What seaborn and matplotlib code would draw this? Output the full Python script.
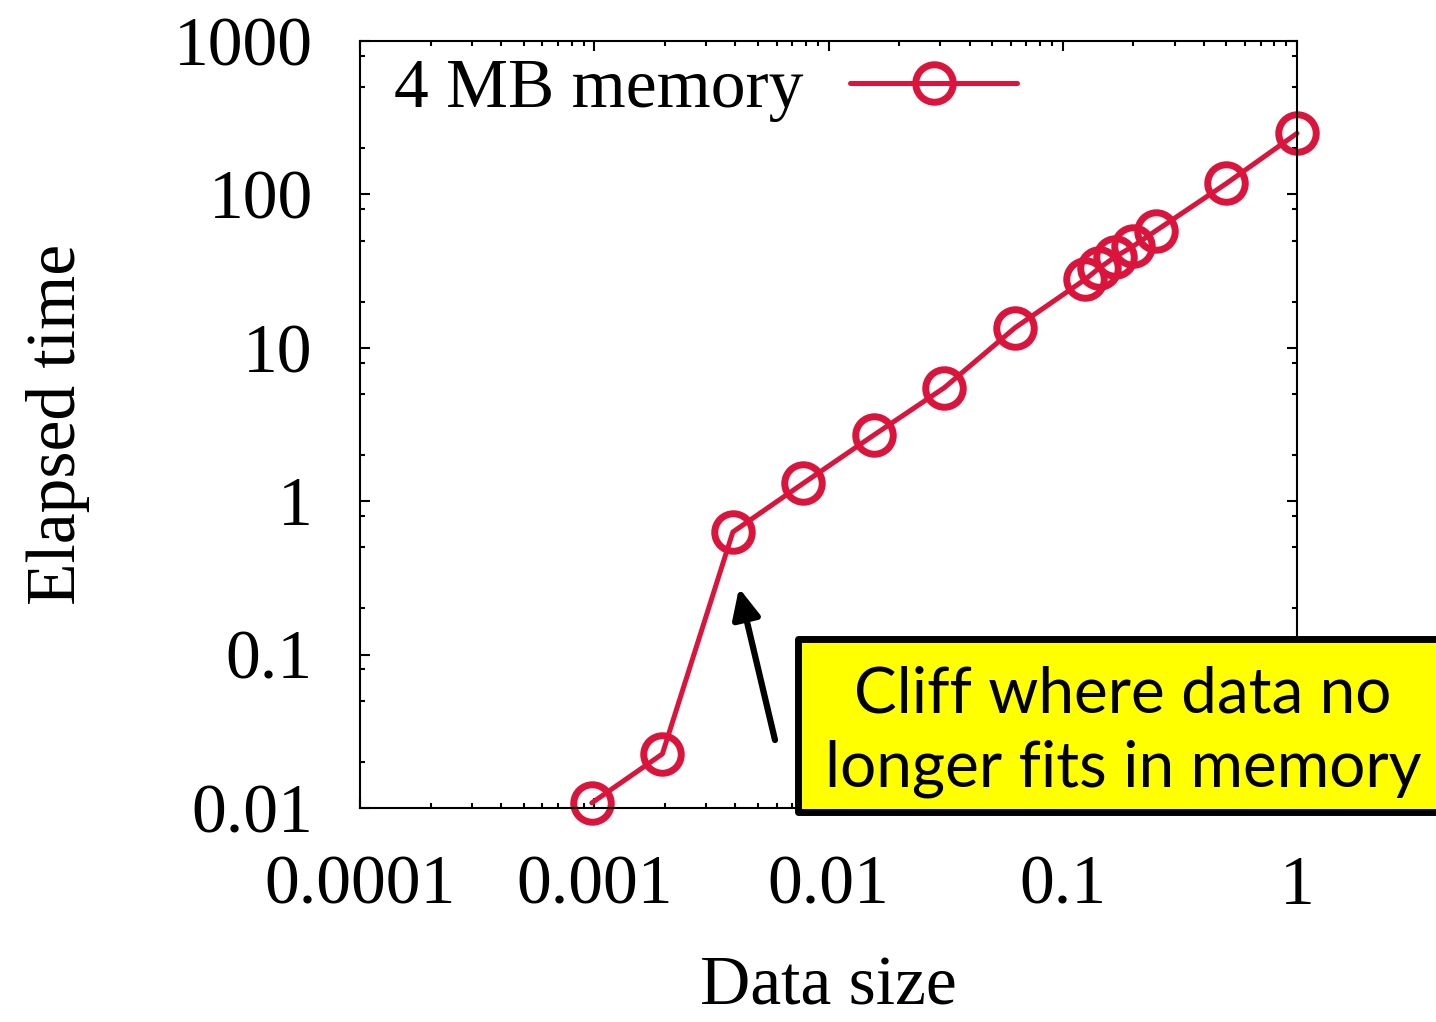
import numpy as np
import pandas as pd
import matplotlib
matplotlib.use("Agg")
import matplotlib.pyplot as plt
import seaborn as sns
from matplotlib.ticker import FixedLocator, FixedFormatter, LogLocator, NullFormatter
from matplotlib.patches import Rectangle

# ---- data ----
data_size = [1/1024, 1/512, 1/256, 1/128, 1/64, 1/32, 1/16,
             1/8, 1/7, 1/6, 1/5, 1/4, 1/2, 1]
elapsed_time = [0.0108, 0.0225, 0.63, 1.31, 2.7, 5.5, 13.5,
                28, 33, 39, 46, 58, 118, 250]
series_label = "4 MB memory"
x_ticks = [1e-4, 1e-3, 1e-2, 1e-1, 1]
x_tick_labels = ["0.0001", "0.001", "0.01", "0.1", "1"]
y_ticks = [0.01, 0.1, 1, 10, 100, 1000]
y_tick_labels = ["0.01", "0.1", "1", "10", "100", "1000"]
x_label = "Data size"
y_label = "Elapsed time"
note_text = "Cliff where data no\nlonger fits in memory"

RED = "#DC143C"
W, H = 1436, 1022

sns.set_style("ticks")
plt.rcParams["font.family"] = ["Liberation Serif", "DejaVu Serif"]
plt.rcParams["text.color"] = "black"
plt.rcParams["axes.labelcolor"] = "black"
plt.rcParams["xtick.color"] = "black"
plt.rcParams["ytick.color"] = "black"

fig = plt.figure(figsize=(W / 100, H / 100), dpi=100)
ax = fig.add_axes([360 / W, 1 - 808 / H, 937 / W, 767 / H])

df = pd.DataFrame({"size": data_size, "time": elapsed_time})
sns.lineplot(data=df, x="size", y="time", ax=ax, color=RED, linewidth=3.6,
             marker="o", markersize=27, markerfacecolor="none",
             markeredgecolor=RED, markeredgewidth=5, label=series_label,
             clip_on=False, legend=False)

ax.set_xscale("log")
ax.set_yscale("log")
ax.set_xlim(1e-4, 1)
ax.set_ylim(0.01, 1000)

ax.xaxis.set_major_locator(FixedLocator(x_ticks))
ax.xaxis.set_major_formatter(FixedFormatter(x_tick_labels))
ax.yaxis.set_major_locator(FixedLocator(y_ticks))
ax.yaxis.set_major_formatter(FixedFormatter(y_tick_labels))
ax.xaxis.set_minor_locator(LogLocator(base=10, subs=np.arange(2, 10), numticks=50))
ax.yaxis.set_minor_locator(LogLocator(base=10, subs=[2, 5, 8], numticks=50))
ax.xaxis.set_minor_formatter(NullFormatter())
ax.yaxis.set_minor_formatter(NullFormatter())

for s in ax.spines.values():
    s.set_visible(True)
    s.set_linewidth(1.5)
    s.set_color("black")

ax.tick_params(which="both", direction="in", top=True, right=True,
               color="black", width=1.5)
ax.tick_params(which="major", length=7.5)
ax.tick_params(which="minor", length=3.8)
ax.tick_params(axis="x", labelsize=50, pad=34, labelcolor="black")
ax.tick_params(axis="y", labelsize=50, pad=34, labelcolor="black")

ax.set_xlabel(x_label, fontsize=50, labelpad=27, color="black")
ax.set_ylabel(y_label, fontsize=50, labelpad=60, color="black")

h, l = ax.get_legend_handles_labels()
leg = ax.legend(h, l, loc="upper left", bbox_to_anchor=(0.036, 0.977), frameon=False,
                markerfirst=False, fontsize=50, handlelength=2.4, handletextpad=0.68,
                borderpad=0, borderaxespad=0, numpoints=1)
for t in leg.get_texts():
    t.set_color("black")

# arrow
ax.annotate("", xy=(739 / W, 1 - 588 / H), xytext=(775 / W, 1 - 740 / H),
            xycoords="figure fraction", textcoords="figure fraction",
            arrowprops=dict(arrowstyle="-|>,head_length=0.9,head_width=0.42",
                            mutation_scale=20, lw=4.5, color="black",
                            shrinkA=0, shrinkB=0),
            annotation_clip=False)

# yellow note box
rect = Rectangle((797.5 / W, 1 - 811.5 / H), (1500 - 797.5) / W, (811.5 - 638.5) / H,
                 transform=fig.transFigure, facecolor="#FFFF00", edgecolor="black",
                 linewidth=5, joinstyle="round", zorder=5, clip_on=False)
fig.add_artist(rect)
fig.text(1123 / W, 1 - 732 / H, note_text, ha="center", va="center",
         fontsize=46, family=["Lato", "DejaVu Sans"], linespacing=1.33,
         color="black", zorder=6)

fig.savefig("out.png", dpi=100)
